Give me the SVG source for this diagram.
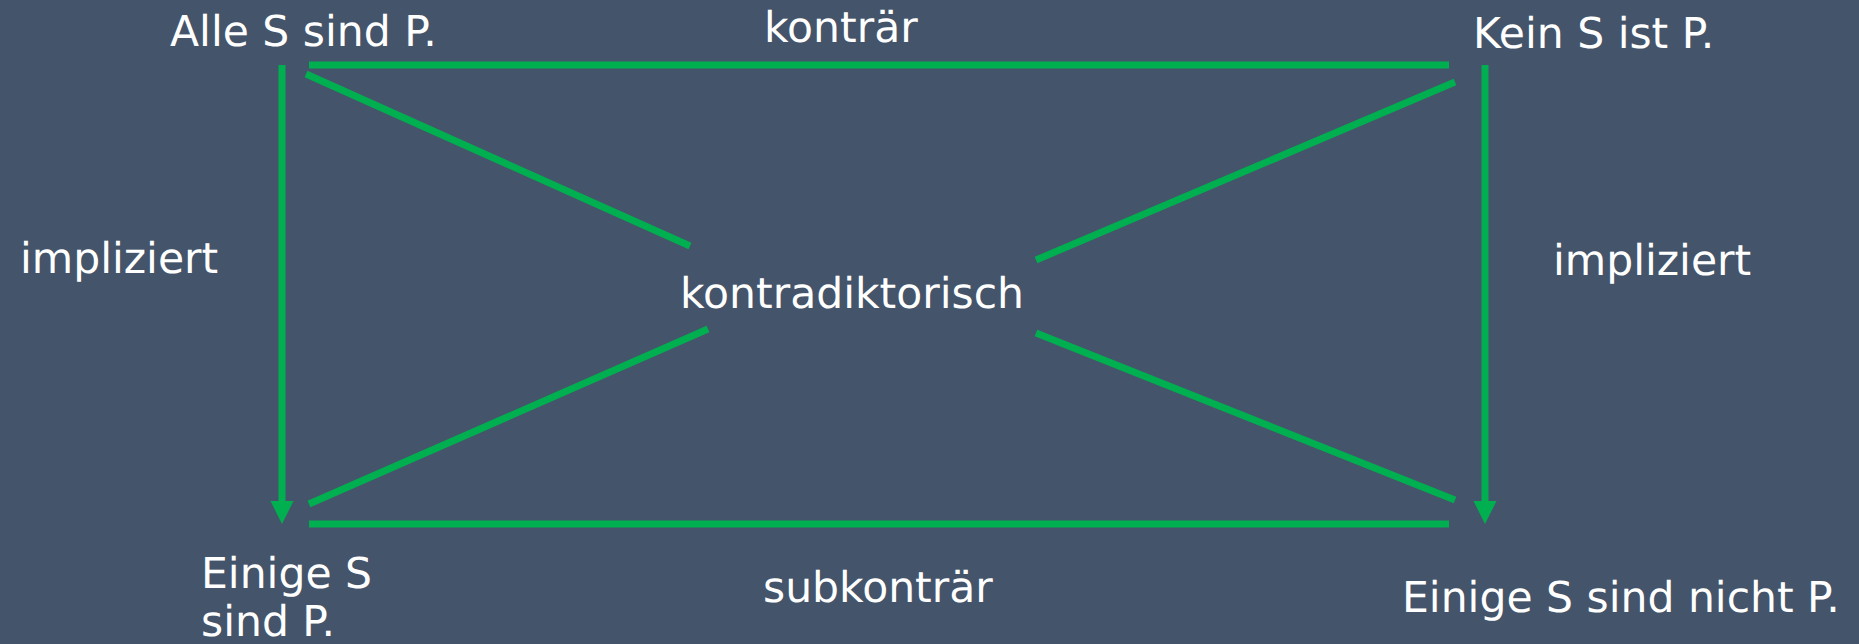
<svg xmlns="http://www.w3.org/2000/svg" width="1859" height="644" viewBox="0 0 1859 644">
<style>
.t{font-family:"DejaVu Sans",Verdana,sans-serif;font-size:42.5px;fill:#ffffff;text-rendering:geometricPrecision}
.l{stroke:#00B050;stroke-width:7;fill:none}
.ah{fill:#00B050}
</style>
<rect width="1859" height="644" fill="#44546A"/>
<g id="connectors">
<line class="l" x1="309" y1="65" x2="1449" y2="65"/>
<line class="l" x1="309" y1="524" x2="1449" y2="524"/>
<line class="l" x1="282" y1="65" x2="282" y2="502"/>
<path class="ah" d="M270.5,501 L293.5,501 L282,524 Z"/>
<line class="l" x1="1485" y1="65" x2="1485" y2="502"/>
<path class="ah" d="M1473.5,501 L1496.5,501 L1485,524 Z"/>
<line class="l" x1="306" y1="74" x2="690" y2="246"/>
<line class="l" x1="708" y1="329" x2="309" y2="504"/>
<line class="l" x1="1455" y1="82" x2="1036" y2="260"/>
<line class="l" x1="1036" y1="333" x2="1455" y2="500"/>
</g>
<g id="node-a"><text class="t" x="170" y="46">Alle S sind P.</text></g>
<g id="node-e"><text class="t" x="1473" y="48">Kein S ist P.</text></g>
<g id="node-i"><text class="t" x="201" y="588">Einige S</text><text class="t" x="201" y="636">sind P.</text></g>
<g id="node-o"><text class="t" x="1402" y="612">Einige S sind nicht P.</text></g>
<g id="labels">
<text class="t" x="764" y="42">konträr</text>
<text class="t" x="763" y="602">subkonträr</text>
<text class="t" x="20" y="273">impliziert</text>
<text class="t" x="1553" y="275">impliziert</text>
<text class="t" x="680" y="308">kontradiktorisch</text>
</g>
</svg>
